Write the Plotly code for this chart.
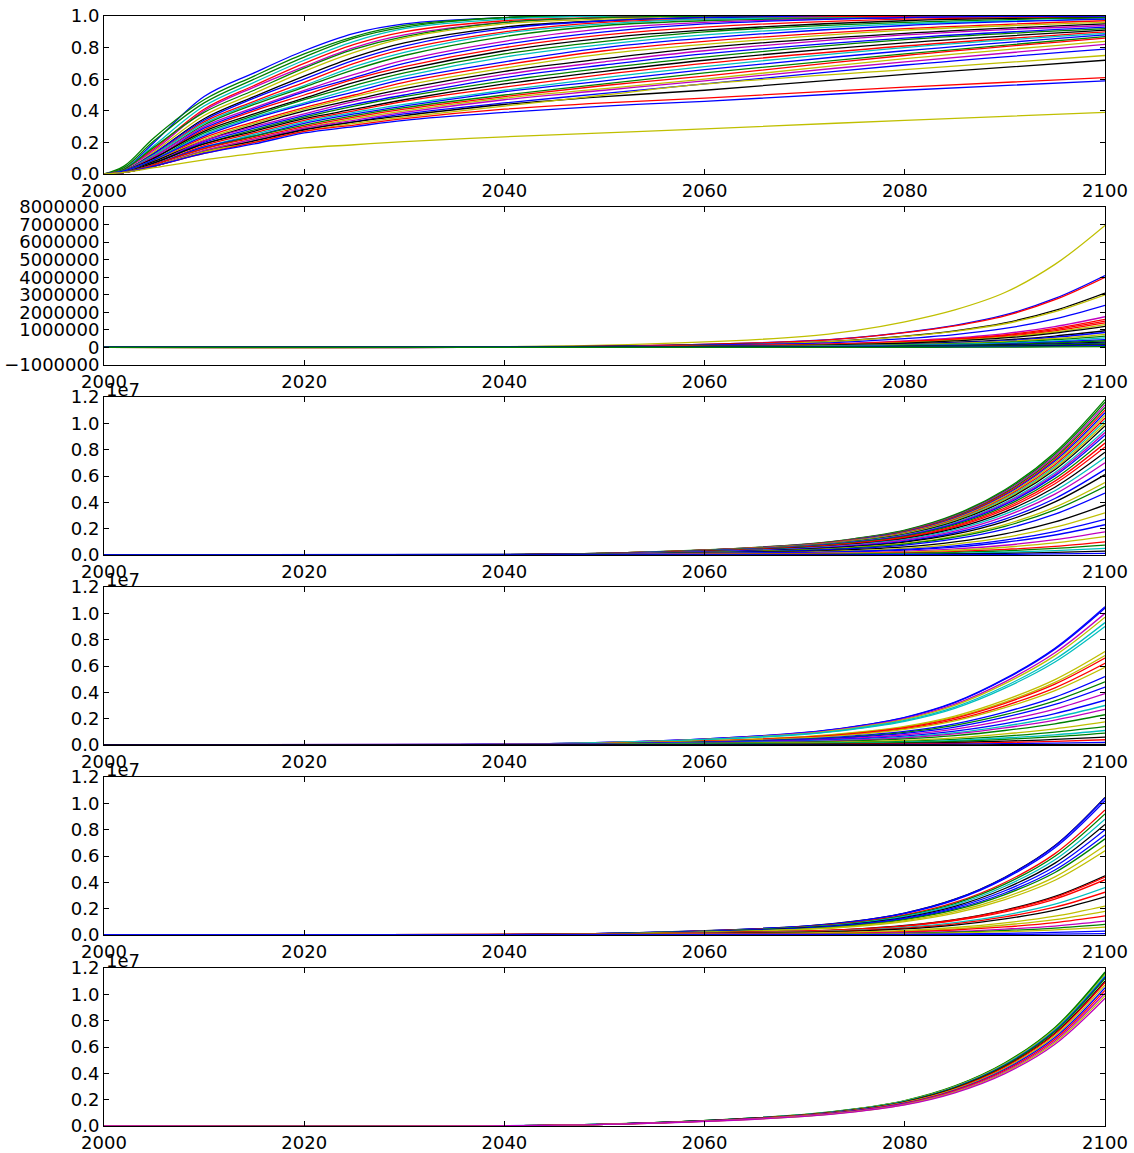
import plotly.graph_objects as go

# ---------------------------------------------------------------- data
# Panel 1: adoption share (0..1) per scenario
P1_YEARS = [2000, 2002, 2005, 2010, 2015, 2020, 2025, 2030, 2040, 2050, 2060, 2080, 2100]
P1_CURVES = [
    [0, .03, .20, .49, .64, .78, .89, .95, .99, 1, 1, 1, 1],
    [0, .05, .23, .47, .62, .76, .87, .94, .99, 1, 1, 1, 1],
    [0, .04, .21, .45, .60, .74, .86, .93, .99, 1, 1, 1, 1],
    [0, .03, .18, .43, .58, .72, .84, .92, .98, 1, 1, 1, 1],
    [0, .03, .16, .41, .56, .70, .82, .90, .97, .99, 1, 1, 1],
    [0, .03, .15, .40, .55, .68, .80, .88, .96, .99, 1, 1, 1],
    [0, .03, .17, .39, .53, .67, .79, .87, .96, .99, 1, 1, 1],
    [0, .02, .14, .37, .51, .65, .77, .86, .95, .98, .99, 1, 1],
    [0, .02, .13, .35, .49, .62, .74, .83, .93, .97, .99, 1, 1],
    [0, .02, .13, .34, .48, .60, .72, .81, .92, .97, .99, 1, 1],
    [0, .02, .12, .33, .46, .58, .70, .79, .90, .96, .98, 1, 1],
    [0, .02, .12, .32, .45, .56, .68, .77, .89, .95, .98, .99, 1],
    [0, .02, .11, .31, .44, .55, .66, .75, .87, .94, .97, .99, 1],
    [0, .02, .11, .30, .42, .53, .63, .72, .84, .92, .96, .99, 1],
    [0, .02, .10, .29, .41, .52, .61, .70, .82, .90, .95, .99, 1],
    [0, .02, .10, .28, .40, .50, .60, .68, .80, .88, .93, .98, .99],
    [0, .02, .10, .27, .38, .48, .58, .66, .78, .86, .91, .97, .99],
    [0, .02, .09, .26, .37, .47, .56, .64, .76, .84, .90, .96, .99],
    [0, .02, .09, .25, .36, .45, .54, .62, .74, .82, .88, .95, .98],
    [0, .02, .09, .24, .35, .44, .52, .60, .71, .80, .86, .94, .98],
    [0, .01, .08, .23, .33, .42, .50, .58, .69, .78, .84, .92, .97],
    [0, .01, .08, .22, .32, .41, .49, .56, .67, .76, .82, .91, .96],
    [0, .01, .08, .21, .31, .40, .47, .54, .65, .73, .80, .89, .95],
    [0, .01, .07, .21, .30, .38, .46, .52, .63, .71, .78, .88, .94],
    [0, .01, .07, .20, .29, .37, .44, .50, .61, .69, .76, .86, .93],
    [0, .01, .07, .19, .28, .36, .43, .49, .59, .67, .74, .85, .92],
    [0, .01, .07, .19, .27, .35, .41, .47, .57, .65, .72, .83, .91],
    [0, .01, .06, .18, .26, .34, .40, .46, .55, .63, .70, .81, .90],
    [0, .01, .06, .17, .25, .33, .39, .44, .53, .61, .68, .80, .89],
    [0, .01, .06, .17, .24, .32, .38, .43, .52, .59, .66, .78, .88],
    [0, .01, .06, .16, .24, .31, .37, .42, .50, .57, .64, .76, .87],
    [0, .01, .06, .16, .23, .30, .36, .41, .49, .56, .62, .75, .86],
    [0, .01, .05, .15, .22, .29, .35, .40, .48, .54, .60, .73, .84],
    [0, .01, .05, .15, .22, .29, .34, .39, .47, .53, .59, .71, .82],
    [0, .01, .05, .14, .21, .28, .33, .38, .45, .51, .57, .69, .79],
    [0, .01, .05, .14, .21, .28, .33, .37, .44, .49, .53, .63, .72],
    [0, .01, .05, .14, .20, .27, .32, .36, .43, .50, .57, .66, .75],
    [0, .01, .05, .13, .20, .27, .31, .35, .41, .45, .48, .55, .61],
    [0, .01, .05, .13, .19, .26, .30, .34, .39, .43, .46, .53, .59],
    [0, .01, .04, .09, .13, .165, .185, .205, .235, .26, .285, .34, .39],
]
P1_COLORS = "bggcrmgyk" "brcgmbrkgc" "brykmbgkrc" "bgrymbkyrb" "y"

# Panels 2-6: cumulative totals, in millions
EXP_YEARS = [2000, 2050, 2070, 2075, 2080, 2085, 2090, 2095, 2100]

P2_CURVES = [
    [0, .13, .63, .96, 1.46, 2.14, 3.13, 4.73, 6.95],
    [0, .07, .37, .56, .86, 1.26, 1.85, 2.79, 4.1],
    [0, .07, .36, .55, .84, 1.23, 1.80, 2.72, 4.0],
    [0, .06, .28, .43, .65, .95, 1.40, 2.11, 3.1],
    [0, .05, .27, .41, .63, .92, 1.35, 2.04, 3.0],
    [0, .04, .22, .33, .50, .73, 1.08, 1.63, 2.4],
    [0, .03, .16, .24, .37, .54, .79, 1.19, 1.75],
    [0, .03, .14, .22, .34, .49, .72, 1.09, 1.6],
    [0, .03, .14, .21, .32, .47, .68, 1.02, 1.5],
    [0, .03, .13, .19, .29, .43, .63, .95, 1.4],
    [0, .02, .12, .18, .27, .40, .59, .88, 1.3],
    [0, .02, .11, .17, .25, .37, .54, .82, 1.2],
    [0, .02, .09, .13, .20, .29, .43, .65, .95],
    [0, .02, .08, .12, .18, .26, .38, .58, .85],
    [0, .01, .07, .11, .16, .23, .34, .51, .75],
    [0, .01, .06, .09, .14, .20, .29, .44, .65],
    [0, .01, .05, .08, .12, .17, .25, .37, .55],
    [0, .01, .04, .06, .09, .13, .20, .31, .45],
    [0, .01, .03, .05, .08, .12, .17, .26, .38],
    [0, .01, .03, .04, .06, .09, .14, .20, .30],
    [0, 0, .02, .03, .05, .07, .11, .17, .25],
    [0, 0, .02, .03, .04, .06, .09, .14, .20],
    [0, 0, .01, .02, .03, .05, .07, .10, .15],
    [0, 0, .01, .015, .02, .03, .05, .07, .10],
    [0, 0, 0, .005, .01, .015, .02, .03, .05],
]
P2_COLORS = "ybrkybmrrry" "kkbygcbgkbgkbg"

P3_CURVES = [
    [0, .14, .83, 1.25, 1.89, 3.06, 4.96, 7.79, 11.8],
    [0, .14, .81, 1.23, 1.86, 3.01, 4.87, 7.66, 11.6],
    [0, .14, .80, 1.21, 1.82, 2.95, 4.79, 7.52, 11.4],
    [0, .13, .78, 1.18, 1.79, 2.90, 4.70, 7.39, 11.2],
    [0, .13, .77, 1.16, 1.76, 2.85, 4.62, 7.26, 11.0],
    [0, .13, .76, 1.15, 1.73, 2.80, 4.54, 7.13, 10.8],
    [0, .13, .74, 1.12, 1.70, 2.75, 4.45, 7.00, 10.6],
    [0, .12, .73, 1.10, 1.66, 2.69, 4.37, 6.86, 10.4],
    [0, .12, .71, 1.08, 1.63, 2.64, 4.28, 6.73, 10.2],
    [0, .12, .70, 1.06, 1.60, 2.59, 4.20, 6.60, 10.0],
    [0, .12, .69, 1.04, 1.57, 2.54, 4.12, 6.47, 9.8],
    [0, .11, .67, 1.01, 1.52, 2.46, 3.99, 6.27, 9.5],
    [0, .11, .65, .98, 1.49, 2.41, 3.91, 6.14, 9.3],
    [0, .11, .64, .97, 1.46, 2.36, 3.82, 6.01, 9.1],
    [0, .11, .62, .94, 1.41, 2.28, 3.70, 5.81, 8.8],
    [0, .10, .60, .90, 1.36, 2.20, 3.57, 5.61, 8.5],
    [0, .10, .57, .86, 1.31, 2.12, 3.44, 5.41, 8.2],
    [0, .09, .55, .83, 1.25, 2.02, 3.28, 5.15, 7.8],
    [0, .09, .52, .78, 1.18, 1.92, 3.11, 4.88, 7.4],
    [0, .08, .49, .74, 1.12, 1.81, 2.94, 4.62, 7.0],
    [0, .08, .46, .69, 1.04, 1.69, 2.73, 4.29, 6.5],
    [0, .07, .43, .65, .98, 1.58, 2.56, 4.03, 6.1],
    [0, .07, .39, .59, .88, 1.43, 2.31, 3.63, 5.5],
    [0, .06, .36, .55, .83, 1.35, 2.18, 3.43, 5.2],
    [0, .06, .33, .50, .75, 1.22, 1.97, 3.10, 4.7],
    [0, .05, .27, .41, .61, .99, 1.60, 2.51, 3.8],
    [0, .04, .22, .33, .51, .83, 1.34, 2.11, 3.2],
    [0, .03, .19, .29, .43, .70, 1.13, 1.78, 2.7],
    [0, .03, .16, .24, .37, .60, .97, 1.52, 2.3],
    [0, .02, .12, .18, .28, .46, .74, 1.16, 1.75],
    [0, .02, .10, .15, .22, .36, .59, .92, 1.4],
    [0, .01, .07, .11, .16, .26, .42, .66, 1.0],
    [0, .01, .05, .08, .12, .20, .32, .50, .75],
    [0, .01, .035, .05, .08, .13, .21, .33, .5],
    [0, 0, .02, .03, .05, .08, .13, .20, .3],
    [0, 0, .01, .015, .02, .03, .05, .08, .12],
]
P3_COLORS = "ggmgrbyrcyk" "cmbgrrkcmbk" "ygbkybbmyr" "gckb"

P4_CURVES = [
    [0, .19, .95, 1.41, 2.10, 3.25, 5.04, 7.35, 10.5],
    [0, .19, .94, 1.40, 2.08, 3.22, 4.99, 7.28, 10.4],
    [0, .18, .90, 1.34, 2.00, 3.10, 4.80, 7.00, 10.0],
    [0, .17, .87, 1.30, 1.94, 3.01, 4.66, 6.79, 9.7],
    [0, .17, .84, 1.25, 1.86, 2.88, 4.46, 6.51, 9.3],
    [0, .16, .81, 1.21, 1.80, 2.79, 4.32, 6.30, 9.0],
    [0, .13, .64, .95, 1.42, 2.20, 3.41, 4.97, 7.1],
    [0, .12, .61, .91, 1.36, 2.11, 3.26, 4.76, 6.8],
    [0, .12, .59, .88, 1.32, 2.05, 3.17, 4.62, 6.6],
    [0, .11, .56, .83, 1.24, 1.92, 2.98, 4.34, 6.2],
    [0, .11, .53, .79, 1.18, 1.83, 2.83, 4.13, 5.9],
    [0, .09, .47, .70, 1.04, 1.61, 2.50, 3.64, 5.2],
    [0, .09, .43, .64, .96, 1.49, 2.30, 3.36, 4.8],
    [0, .08, .40, .59, .88, 1.36, 2.11, 3.08, 4.4],
    [0, .07, .35, .52, .78, 1.21, 1.87, 2.73, 3.9],
    [0, .06, .31, .46, .68, 1.05, 1.63, 2.38, 3.4],
    [0, .05, .27, .40, .60, .93, 1.44, 2.10, 3.0],
    [0, .05, .24, .36, .54, .84, 1.30, 1.89, 2.7],
    [0, .04, .21, .31, .46, .71, 1.10, 1.61, 2.3],
    [0, .03, .16, .24, .35, .54, .84, 1.23, 1.75],
    [0, .03, .13, .19, .28, .43, .67, .98, 1.4],
    [0, .02, .10, .15, .22, .34, .53, .77, 1.1],
    [0, .02, .08, .12, .18, .28, .43, .63, .9],
    [0, .01, .05, .08, .12, .19, .29, .42, .6],
    [0, .01, .04, .06, .08, .12, .19, .28, .4],
    [0, 0, .02, .03, .04, .06, .10, .14, .2],
    [0, 0, 0, .005, .01, .015, .02, .035, .05],
]
P4_COLORS = "bbmyccyyrry" "bgbmbcmgygc" "gkrbk"

P5_CURVES = [
    [0, .13, .68, 1.05, 1.67, 2.72, 4.39, 6.79, 10.45],
    [0, .12, .68, 1.04, 1.66, 2.70, 4.37, 6.76, 10.4],
    [0, .12, .66, 1.02, 1.63, 2.65, 4.28, 6.63, 10.2],
    [0, .11, .62, .95, 1.52, 2.47, 3.99, 6.18, 9.5],
    [0, .11, .60, .92, 1.47, 2.39, 3.86, 5.98, 9.2],
    [0, .11, .57, .88, 1.41, 2.29, 3.70, 5.72, 8.8],
    [0, .10, .55, .84, 1.34, 2.18, 3.53, 5.46, 8.4],
    [0, .10, .52, .80, 1.28, 2.08, 3.36, 5.20, 8.0],
    [0, .09, .49, .76, 1.22, 1.98, 3.19, 4.94, 7.6],
    [0, .09, .47, .73, 1.17, 1.90, 3.07, 4.75, 7.3],
    [0, .08, .44, .68, 1.09, 1.77, 2.86, 4.42, 6.8],
    [0, .08, .42, .64, 1.02, 1.66, 2.69, 4.16, 6.4],
    [0, .05, .29, .45, .72, 1.17, 1.89, 2.93, 4.5],
    [0, .05, .29, .44, .70, 1.14, 1.85, 2.86, 4.4],
    [0, .05, .27, .42, .67, 1.09, 1.76, 2.73, 4.2],
    [0, .04, .23, .36, .58, .94, 1.51, 2.34, 3.6],
    [0, .04, .21, .33, .52, .85, 1.37, 2.11, 3.25],
    [0, .03, .19, .29, .46, .75, 1.22, 1.89, 2.9],
    [0, .03, .14, .22, .35, .57, .92, 1.43, 2.2],
    [0, .02, .12, .18, .29, .47, .76, 1.17, 1.8],
    [0, .02, .09, .15, .23, .38, .61, .94, 1.45],
    [0, .01, .07, .11, .17, .27, .44, .68, 1.05],
    [0, .01, .05, .08, .13, .21, .34, .52, .8],
    [0, .01, .04, .06, .10, .16, .25, .39, .6],
    [0, 0, .02, .03, .05, .08, .13, .20, .3],
    [0, 0, .01, .01, .02, .03, .04, .07, .1],
]
P5_COLORS = "kbbrgckbbgyy" "krrcrkyyrmgybb"

P6_CURVES = [
    [0, .14, .88, 1.29, 1.93, 3.04, 4.80, 7.49, 11.7],
    [0, .14, .87, 1.28, 1.91, 3.02, 4.76, 7.42, 11.6],
    [0, .14, .86, 1.27, 1.90, 2.99, 4.72, 7.36, 11.5],
    [0, .14, .86, 1.25, 1.88, 2.96, 4.67, 7.30, 11.4],
    [0, .14, .85, 1.24, 1.86, 2.94, 4.63, 7.23, 11.3],
    [0, .13, .84, 1.23, 1.85, 2.91, 4.59, 7.17, 11.2],
    [0, .13, .83, 1.21, 1.82, 2.86, 4.51, 7.04, 11.0],
    [0, .13, .82, 1.20, 1.80, 2.83, 4.47, 6.98, 10.9],
    [0, .13, .80, 1.18, 1.77, 2.78, 4.39, 6.85, 10.7],
    [0, .13, .79, 1.16, 1.73, 2.73, 4.31, 6.72, 10.5],
    [0, .12, .77, 1.13, 1.70, 2.68, 4.22, 6.59, 10.3],
    [0, .12, .76, 1.11, 1.67, 2.63, 4.14, 6.46, 10.1],
    [0, .12, .74, 1.09, 1.63, 2.57, 4.06, 6.34, 9.9],
    [0, .12, .73, 1.07, 1.60, 2.52, 3.98, 6.21, 9.7],
]
P6_COLORS = "ggycbgkrybrmym"

X_TICKS = [2000, 2020, 2040, 2060, 2080, 2100]
P1_TICKS = [0, 0.2, 0.4, 0.6, 0.8, 1.0]
P1_TICKTEXT = ["0.0", "0.2", "0.4", "0.6", "0.8", "1.0"]
P2_TICKS = [-1, 0, 1, 2, 3, 4, 5, 6, 7, 8]
P2_TICKTEXT = ["\u22121000000", "0", "1000000", "2000000", "3000000", "4000000",
               "5000000", "6000000", "7000000", "8000000"]
E7_TICKS = [0, 2, 4, 6, 8, 10, 12]
E7_TICKTEXT = ["0.0", "0.2", "0.4", "0.6", "0.8", "1.0", "1.2"]

# ---------------------------------------------------------------- style
COLOR_MAP = {"b": "#0000ff", "g": "#008000", "r": "#ff0000", "c": "#00bfbf",
             "m": "#bf00bf", "y": "#bfbf00", "k": "#000000"}
FONT = dict(family="DejaVu Sans", size=18, color="black")

W, H = 1134, 1153
LEFT, RIGHT = 104, 1105
TOPS = [16, 207, 397, 587, 777, 968]
PANEL_H = 158
BOTTOM = TOPS[-1] + PANEL_H
PLOT_H = BOTTOM - TOPS[0]

panels = [
    (P1_YEARS, P1_CURVES, P1_COLORS, [0, 1], P1_TICKS, P1_TICKTEXT, False),
    (EXP_YEARS, P2_CURVES, P2_COLORS, [-1, 8], P2_TICKS, P2_TICKTEXT, False),
    (EXP_YEARS, P3_CURVES, P3_COLORS, [0, 12], E7_TICKS, E7_TICKTEXT, True),
    (EXP_YEARS, P4_CURVES, P4_COLORS, [0, 12], E7_TICKS, E7_TICKTEXT, True),
    (EXP_YEARS, P5_CURVES, P5_COLORS, [0, 12], E7_TICKS, E7_TICKTEXT, True),
    (EXP_YEARS, P6_CURVES, P6_COLORS, [0, 12], E7_TICKS, E7_TICKTEXT, True),
]

axis_style = dict(showline=True, linecolor="black", linewidth=1, mirror="ticks",
                  ticks="inside", ticklen=5, tickwidth=1, tickcolor="black",
                  showgrid=False, zeroline=False, tickfont=FONT, automargin=False)

fig = go.Figure()
layout = {}
annotations = []
for i, (years, curves, colors, yrange, yticks, ytext, offset) in enumerate(panels):
    n = "" if i == 0 else str(i + 1)
    for vals, c in zip(curves, colors):
        fig.add_trace(go.Scatter(
            x=years, y=vals, mode="lines",
            line=dict(color=COLOR_MAP[c], width=1.3, shape="spline"),
            xaxis="x" + n, yaxis="y" + n, showlegend=False, hoverinfo="skip"))
    top = TOPS[i]
    d0 = (BOTTOM - (top + PANEL_H)) / PLOT_H
    d1 = (BOTTOM - top) / PLOT_H
    layout["xaxis" + n] = dict(axis_style, range=[2000, 2100], tickvals=X_TICKS,
                               ticktext=[str(t) for t in X_TICKS], anchor="y" + n,
                               domain=[0, 1])
    layout["yaxis" + n] = dict(axis_style, range=yrange, tickvals=yticks,
                               ticktext=ytext, anchor="x" + n, domain=[d0, d1])
    if offset:
        annotations.append(dict(text="1e7", xref="x" + n + " domain", yref="y" + n + " domain",
                                x=0, y=1, xanchor="left", yanchor="bottom",
                                showarrow=False, font=FONT, yshift=-5))

fig.update_layout(
    width=W, height=H,
    margin=dict(l=LEFT, r=W - RIGHT, t=TOPS[0], b=H - BOTTOM),
    paper_bgcolor="white", plot_bgcolor="white",
    font=FONT, annotations=annotations, **layout)

fig.write_html("out.html")
